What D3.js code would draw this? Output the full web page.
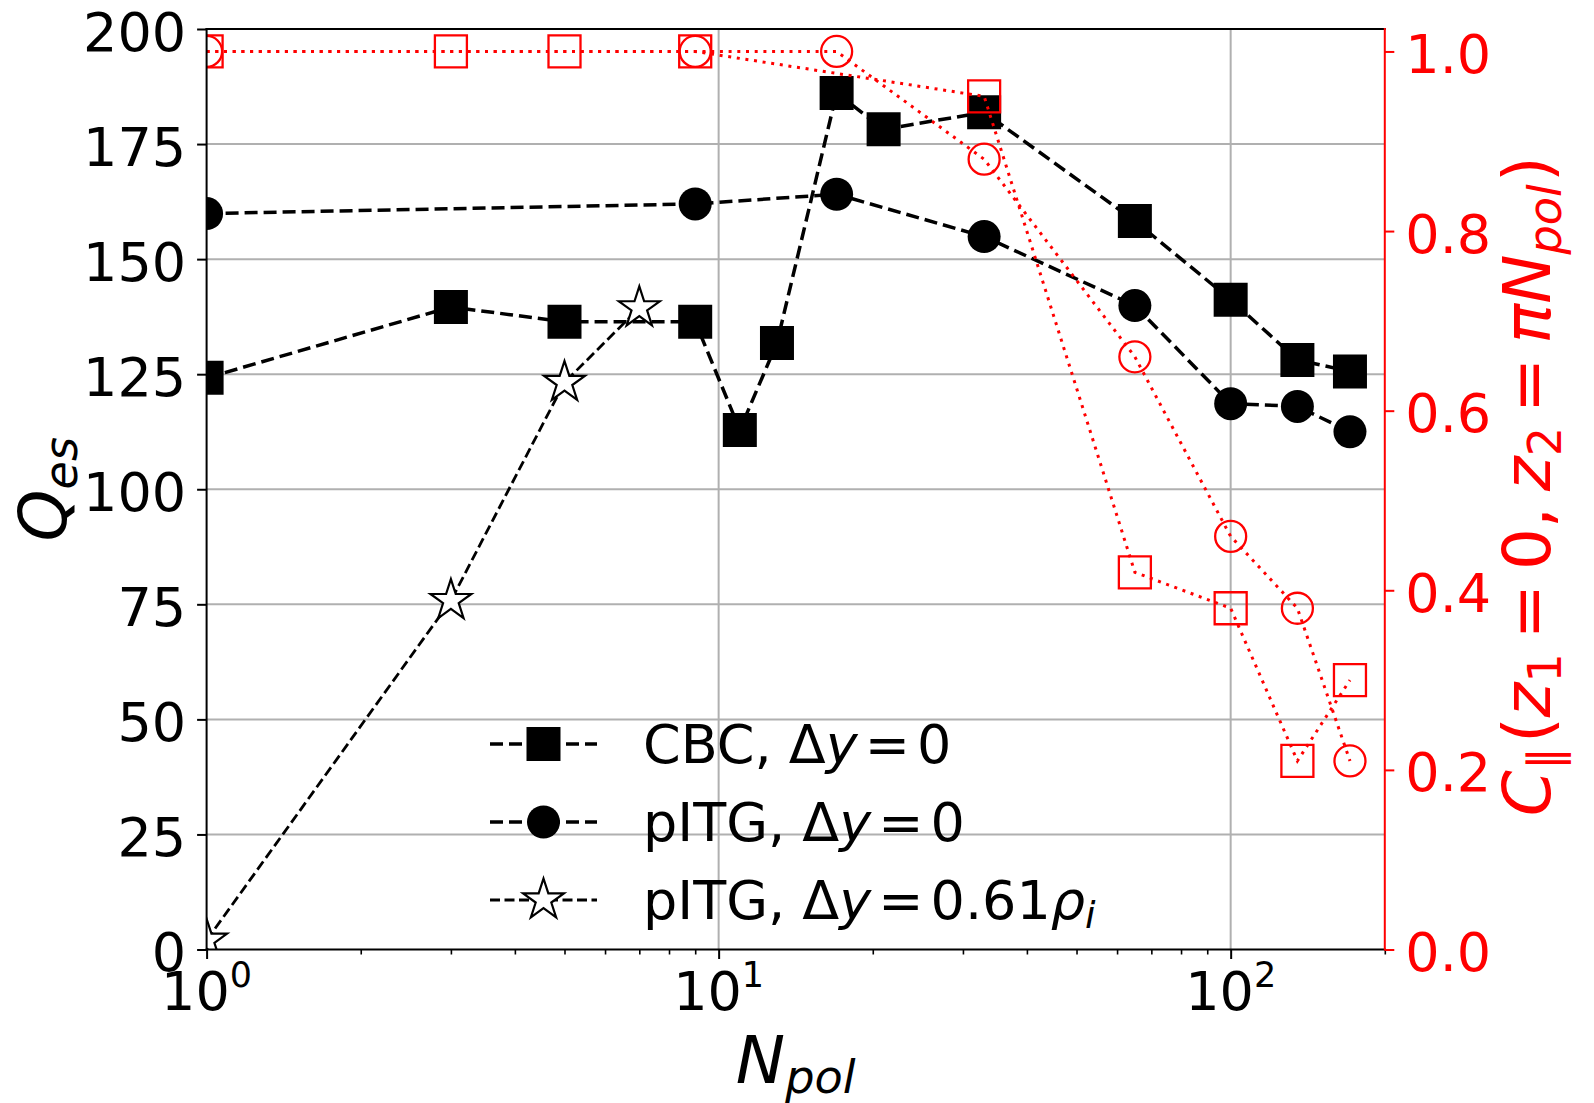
<!DOCTYPE html>
<html>
<head>
<meta charset="utf-8">
<script src="https://cdn.jsdelivr.net/npm/d3@7"></script>
<style>
  html, body { margin: 0; padding: 0; background: #fff; }
  svg { display: block; font-family: "DejaVu Sans", sans-serif; }
</style>
</head>
<body>
<svg id="chart" width="1594" height="1103"></svg>
<script>
// Heat flux Q_es versus number of poloidal turns N_pol (left axis, log x)
const nCBC   = [1, 3, 5, 9, 11, 13, 17, 21, 33, 65, 100, 135, 171];
const qCBC   = [124.2, 139.6, 136.4, 136.4, 112.9, 131.8, 186.1, 178.2, 181.9, 158.3, 141.2, 128.1, 125.6];
const nITG   = [1, 9, 17, 33, 65, 100, 135, 171];
const qITG   = [159.9, 162.0, 164.1, 154.9, 139.9, 118.6, 118.0, 112.5];
const nShift = [1, 3, 5, 7];
const qShift = [2.0, 75.8, 123.2, 139.4];

// Parallel correlation C_par (right axis)
const nCorrSq = [1, 3, 5, 9, 33, 65, 100, 135, 171];
const cCorrSq = [1.0, 1.0, 1.0, 1.0, 0.95, 0.42, 0.38, 0.21, 0.30];
const nCorrCi = [1, 9, 17, 33, 65, 100, 135, 171];
const cCorrCi = [1.0, 1.0, 1.0, 0.88, 0.66, 0.46, 0.38, 0.21];

// Axis ticks
const qTicks = [0, 25, 50, 75, 100, 125, 150, 175, 200];
const cTicks = [0.0, 0.2, 0.4, 0.6, 0.8, 1.0];
const nMajor = [1, 10, 100];
const nMinor = [2, 3, 4, 5, 6, 7, 8, 9, 20, 30, 40, 50, 60, 70, 80, 90, 200];

const RED = "#ff0000";
const GRID = "#b0b0b0";
const TICK_FS = 54;
const LABEL_FS = 66;

const L = 206.6, R = 1384.8, T = 29, B = 949.5;

const x  = d3.scaleLog().domain([1, 200]).range([L, R]);
const yL = d3.scaleLinear().domain([0, 200]).range([B, T]);
const yR = d3.scaleLinear().domain([0, 1.025]).range([B, T]);

const svg = d3.select("#chart");

svg.append("defs").append("clipPath").attr("id", "plotClip")
  .append("rect").attr("x", L).attr("y", T).attr("width", R - L).attr("height", B - T);

// Grid
const grid = svg.append("g");
grid.selectAll("line.h").data(qTicks.slice(1, -1)).join("line")
  .attr("x1", L).attr("x2", R).attr("y1", d => yL(d)).attr("y2", d => yL(d))
  .attr("stroke", GRID).attr("stroke-width", 2);
grid.selectAll("line.v").data(nMajor.slice(1)).join("line")
  .attr("x1", d => x(d)).attr("x2", d => x(d)).attr("y1", T).attr("y2", B)
  .attr("stroke", GRID).attr("stroke-width", 2);

// Rich text helper: parts with italic / subscript / superscript
function rich(sel, parts, size) {
  const t = sel.append("text").attr("font-size", size);
  let shift = 0;
  parts.forEach(p => {
    const ts = t.append("tspan").text(p.t);
    if (p.sub || p.sup) ts.attr("font-size", p.fs || size * 0.7);
    if (p.it) ts.attr("font-style", "italic");
    const target = p.sub ? p.sub : p.sup ? -p.sup : 0;
    if (target !== shift) ts.attr("dy", target - shift);
    shift = target;
    if (p.dx) ts.attr("dx", p.dx);
  });
  return t;
}

const lineGen = (xs, ys, yScale) => d3.line()
  .x((d, i) => x(xs[i])).y((d, i) => yScale(ys[i]))(xs);

const sym = (type, size) => d3.symbol().type(type).size(size)();

// Black series
const black = svg.append("g").attr("clip-path", "url(#plotClip)");
const series = [
  { xs: nCBC, ys: qCBC, lw: 3.5, dash: "13,6", shape: sym(d3.symbolSquare, 34 * 34), fill: "#000", stroke: "none", sw: 0 },
  { xs: nITG, ys: qITG, lw: 3.5, dash: "13,6", shape: sym(d3.symbolCircle, Math.PI * 16.5 * 16.5), fill: "#000", stroke: "none", sw: 0 },
  { xs: nShift, ys: qShift, lw: 2.8, dash: "10,4.5", shape: sym(d3.symbolStar, 21.5 * 21.5 / 0.8908130915292852), fill: "#fff", stroke: "#000", sw: 2.2 }
];
series.forEach(s => {
  black.append("path").attr("d", lineGen(s.xs, s.ys, yL))
    .attr("fill", "none").attr("stroke", "#000").attr("stroke-width", s.lw)
    .attr("stroke-dasharray", s.dash);
  black.selectAll(null).data(s.xs).join("path")
    .attr("d", s.shape)
    .attr("transform", (d, i) => `translate(${x(d)},${yL(s.ys[i])})`)
    .attr("fill", s.fill).attr("stroke", s.stroke).attr("stroke-width", s.sw);
});

// Left axis
const axL = svg.append("g").attr("transform", `translate(${L},0)`)
  .call(d3.axisLeft(yL).tickValues(qTicks).tickSize(9.5).tickPadding(11).tickFormat(d3.format("d")));
axL.select(".domain").remove();
axL.selectAll("line").attr("stroke", "#000").attr("stroke-width", 2);
axL.selectAll("text").attr("font-size", TICK_FS).attr("font-family", "DejaVu Sans")
  .attr("fill", "#000").attr("dy", "0.39em");

// Bottom axis: major and minor ticks
const axB = svg.append("g").attr("transform", `translate(0,${B})`)
  .call(d3.axisBottom(x).tickValues(nMajor).tickSize(9.5).tickFormat(""));
axB.select(".domain").remove();
axB.selectAll("line").attr("stroke", "#000").attr("stroke-width", 2);
const axBm = svg.append("g").attr("transform", `translate(0,${B})`)
  .call(d3.axisBottom(x).tickValues(nMinor).tickSize(5).tickFormat(""));
axBm.select(".domain").remove();
axBm.selectAll("line").attr("stroke", "#000").attr("stroke-width", 1.6);

nMajor.forEach(v => {
  const g = svg.append("g").attr("transform", `translate(${x(v)},1010)`);
  rich(g, [{ t: "10" }, { t: String(Math.round(Math.log10(v))), sup: 23, fs: 35 }], TICK_FS)
    .attr("text-anchor", "middle");
});

// Axis labels
rich(svg.append("g").attr("transform", `translate(66,${(T + B) / 2}) rotate(-90)`),
  [{ t: "Q", it: true }, { t: "es", it: true, sub: 11 }], LABEL_FS).attr("text-anchor", "middle");

rich(svg.append("g").attr("transform", `translate(${(L + R) / 2},1083)`),
  [{ t: "N", it: true }, { t: "pol", it: true, sub: 10 }], LABEL_FS).attr("text-anchor", "middle");

// Correlation series (right axis, drawn over)
const red = svg.append("g").attr("clip-path", "url(#plotClip)");
const corr = [
  { xs: nCorrSq, ys: cCorrSq, shape: sym(d3.symbolSquare, 32 * 32) },
  { xs: nCorrCi, ys: cCorrCi, shape: sym(d3.symbolCircle, Math.PI * 15.5 * 15.5) }
];
corr.forEach(s => {
  red.append("path").attr("d", lineGen(s.xs, s.ys, yR))
    .attr("fill", "none").attr("stroke", RED).attr("stroke-width", 3)
    .attr("stroke-dasharray", "3,5.7");
  red.selectAll(null).data(s.xs).join("path")
    .attr("d", s.shape)
    .attr("transform", (d, i) => `translate(${x(d)},${yR(s.ys[i])})`)
    .attr("fill", "none").attr("stroke", RED).attr("stroke-width", 2.3);
});

// Spines
const sp = svg.append("g");
sp.append("line").attr("x1", L).attr("x2", L).attr("y1", T - 1).attr("y2", B + 1).attr("stroke", "#000").attr("stroke-width", 2);
sp.append("line").attr("x1", L - 1).attr("x2", R + 1).attr("y1", B).attr("y2", B).attr("stroke", "#000").attr("stroke-width", 2);
sp.append("line").attr("x1", L - 1).attr("x2", R + 1).attr("y1", T).attr("y2", T).attr("stroke", "#000").attr("stroke-width", 2);
sp.append("line").attr("x1", R).attr("x2", R).attr("y1", T - 1).attr("y2", B + 1).attr("stroke", RED).attr("stroke-width", 2);

// Right axis
const axR = svg.append("g").attr("transform", `translate(${R},0)`)
  .call(d3.axisRight(yR).tickValues(cTicks).tickSize(9.5).tickPadding(11).tickFormat(d3.format(".1f")));
axR.select(".domain").remove();
axR.selectAll("line").attr("stroke", RED).attr("stroke-width", 2);
axR.selectAll("text").attr("font-size", TICK_FS).attr("font-family", "DejaVu Sans")
  .attr("fill", RED).attr("dy", "0.39em");

rich(svg.append("g").attr("transform", `translate(1550,${(T + B) / 2 - 3}) rotate(-90)`).attr("fill", RED),
  [{ t: "C", it: true }, { t: "\u2225", sub: 11 }, { t: "(", dx: 4 }, { t: "z", it: true },
   { t: "1", sub: 11 }, { t: "=", dx: 14 }, { t: "0,", dx: 14 }, { t: "z", it: true, dx: 16 },
   { t: "2", sub: 11 }, { t: "=", dx: 14 }, { t: "\u03c0N", it: true, dx: 14 },
   { t: "pol", it: true, sub: 11 }, { t: ")", dx: 2 }], LABEL_FS).attr("text-anchor", "middle");

// Legend
const legendRows = [
  { y: 744, s: series[0], parts: [{ t: "CBC, \u0394" }, { t: "y", it: true }, { t: "=", dx: 7 }, { t: "0", dx: 7 }] },
  { y: 822, s: series[1], parts: [{ t: "pITG, \u0394" }, { t: "y", it: true }, { t: "=", dx: 7 }, { t: "0", dx: 7 }] },
  { y: 900, s: series[2], parts: [{ t: "pITG, \u0394" }, { t: "y", it: true }, { t: "=", dx: 7 }, { t: "0.61" , dx: 7}, { t: "\u03c1", it: true }, { t: "i", it: true, sub: 9 }] }
];
const lg = svg.append("g");
legendRows.forEach(r => {
  lg.append("line").attr("x1", 490).attr("x2", 597).attr("y1", r.y).attr("y2", r.y)
    .attr("stroke", "#000").attr("stroke-width", r.s.lw).attr("stroke-dasharray", r.s.dash);
  lg.append("path").attr("d", r.s.shape).attr("transform", `translate(543.5,${r.y})`)
    .attr("fill", r.s.fill).attr("stroke", r.s.stroke).attr("stroke-width", r.s.sw);
  rich(lg.append("g").attr("transform", `translate(643,${r.y + 19})`), r.parts, TICK_FS);
});
</script>
</body>
</html>
